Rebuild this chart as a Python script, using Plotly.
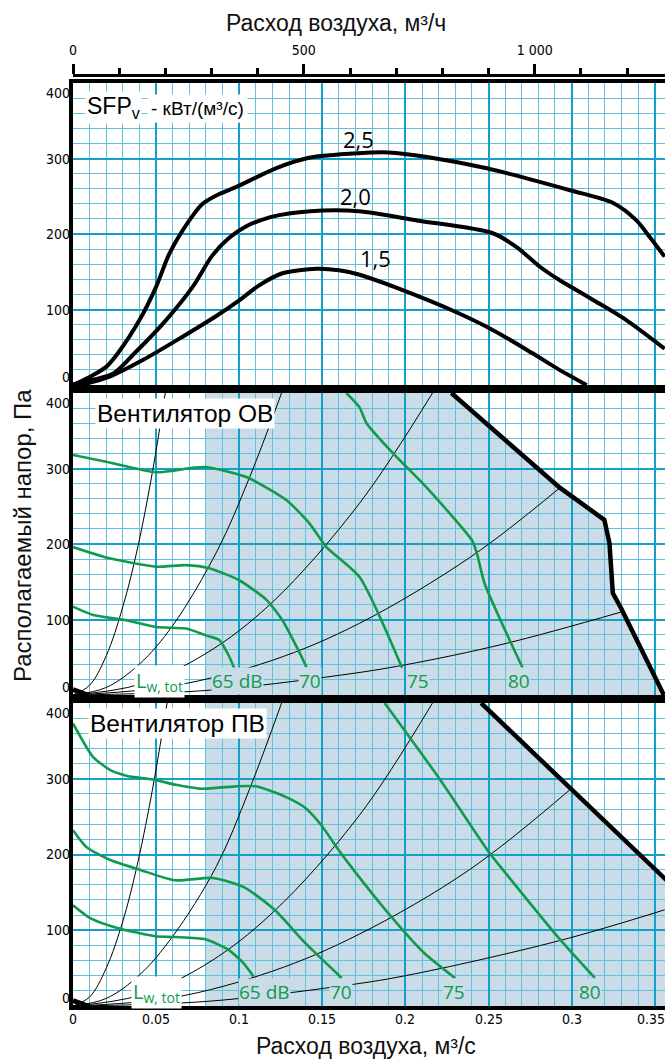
import plotly.graph_objects as go

# ---------------- axis extents ----------------
XMAX = 0.3562          # m3/s at right edge of the picture
YMAX = 400             # Pa

# ---------------- top panel: SFPv curves ----------------
sfp_labels = ["2,5", "2,0", "1,5"]
sfp25_x = [0, 0.002, 0.012, 0.020, 0.027, 0.040, 0.050, 0.058, 0.070, 0.078, 0.088, 0.098, 0.122, 0.142, 0.172,
           0.190, 0.213, 0.249, 0.299, 0.325, 0.339, 0.347, 0.356]
sfp25_y = [0, 2, 13, 24, 42, 86, 130, 174, 218, 240, 253, 262, 287, 301, 307, 308, 302, 287, 258, 241, 218, 196, 170]
sfp20_x = [0, 0.004, 0.024, 0.037, 0.056, 0.072, 0.084, 0.094, 0.104, 0.114, 0.124, 0.150, 0.172, 0.207, 0.2526,
           0.2667, 0.2807, 0.2927, 0.3127, 0.3329, 0.356]
sfp20_y = [0, 3, 15, 42, 86, 130, 172, 195, 210, 219, 225, 231, 230, 218, 201, 183, 157, 139, 113, 86, 48]
sfp15_x = [0, 0.008, 0.022, 0.042, 0.066, 0.086, 0.100, 0.112, 0.126, 0.1465, 0.160, 0.1725, 0.198, 0.228, 0.2525,
           0.2765, 0.2927, 0.309]
sfp15_y = [0, 2, 11, 33, 64, 91, 112, 132, 148, 154, 152, 146, 126, 99, 73, 42, 20, 0]
sfp_label_x = [0.1720, 0.1700, 0.182]
sfp_label_y = [326, 250, 168]

# ---------------- middle panel: fan OV ----------------
ov_g65_x = [0, 0.012, 0.032, 0.050, 0.068, 0.080, 0.088, 0.094, 0.097]
ov_g65_y = [117, 106, 99, 90, 88, 79, 73, 51, 35]
ov_g70_x = [0, 0.022, 0.050, 0.068, 0.082, 0.100, 0.1164, 0.126, 0.1345, 0.1405]
ov_g70_y = [196, 181, 170, 172, 168, 152, 126, 99, 64, 37]
ov_g75_x = [0, 0.020, 0.050, 0.072, 0.080, 0.104, 0.1285, 0.142, 0.1525, 0.1725, 0.198]
ov_g75_y = [318, 309, 295, 301, 302, 289, 258, 228, 196, 156, 36]
ov_g80_x = [0.1645, 0.1724, 0.1766, 0.1922, 0.2127, 0.240, 0.243, 0.2476, 0.2705]
ov_g80_y = [400, 381, 360, 321, 275, 205, 188, 148, 36]
ov_bound_x = [0.2277, 0.2927, 0.3197, 0.3228, 0.3248, 0.3298, 0.3555]
ov_bound_y = [400, 275, 232, 201, 135, 115, 0]
ov_s1_x = [0, 0.010, 0.020, 0.030, 0.039, 0.048, 0.0555]
ov_s1_y = [0, 13, 52, 117, 196, 298, 400]
ov_s2_x = [0, 0.020, 0.040, 0.060, 0.087, 0.106, 0.1255]
ov_s2_y = [0, 10, 41, 92, 192, 287, 400]
ov_s3_x = [0, 0.040, 0.080, 0.120, 0.1724, 0.2163]
ov_s3_y = [0, 14, 55, 123, 254, 400]
ov_s4_x = [0, 0.060, 0.120, 0.1724, 0.240, 0.2927]
ov_s4_y = [0, 12, 46, 95, 184, 274]
ov_s5_x = [0, 0.080, 0.160, 0.200, 0.260, 0.330]
ov_s5_y = [0, 6, 26, 40, 68, 110]
ov_db_labels = ["65 dB", "70", "75", "80"]
ov_db_x = [0.099, 0.1423, 0.2073, 0.2686]

# ---------------- bottom panel: fan PV ----------------
pv_g65_x = [0, 0.0104, 0.0266, 0.0497, 0.0612, 0.0797, 0.0936, 0.1028, 0.1086]
pv_g65_y = [133, 116, 103, 92, 91, 88, 74, 56, 39]
pv_g70_x = [0, 0.008, 0.022, 0.040, 0.0612, 0.0843, 0.1028, 0.1213, 0.1398, 0.1617]
pv_g70_y = [232, 210, 193, 180, 166, 169, 157, 127, 83, 37]
pv_g75_x = [0, 0.012, 0.022, 0.032, 0.048, 0.062, 0.076, 0.080, 0.098, 0.110, 0.128, 0.140, 0.150, 0.1585,
            0.168, 0.188, 0.2113, 0.2298]
pv_g75_y = [373, 329, 312, 304, 299, 292, 287, 287, 290, 290, 276, 261, 237, 210, 182, 127, 70, 37]
pv_g80_x = [0.1875, 0.2205, 0.2506, 0.2586, 0.2922, 0.314]
pv_g80_y = [400, 300, 202, 180, 90, 37]
pv_bound_x = [0.2456, 0.3489, 0.360]
pv_bound_y = [400, 184, 160]
pv_s1_x = [0, 0.010, 0.020, 0.030, 0.038, 0.047, 0.0566]
pv_s1_y = [0, 12, 50, 112, 180, 276, 400]
pv_s2_x = [0, 0.020, 0.040, 0.060, 0.0862, 0.106, 0.1255]
pv_s2_y = [0, 10, 41, 92, 184, 285, 400]
pv_s3_x = [0, 0.040, 0.080, 0.120, 0.1724, 0.2163]
pv_s3_y = [0, 14, 55, 123, 252, 400]
pv_s4_x = [0, 0.060, 0.120, 0.1724, 0.2386, 0.2987]
pv_s4_y = [0, 11, 46, 95, 180, 285]
pv_s5_x = [0, 0.080, 0.160, 0.200, 0.2922, 0.356]
pv_s5_y = [0, 6, 26, 40, 86, 127]
pv_db_labels = ["65 dB", "70", "75", "80"]
pv_db_x = [0.1155, 0.161, 0.229, 0.311]

minflow_x = [0, 0.009]
minflow_y = [7, 0]
shade_start = 0.08

# axis ticks
x_tickvals = [0, 0.05, 0.1, 0.15, 0.2, 0.25, 0.3, 0.35]
x_ticktext = ["0", "0.05", "0.1", "0.15", "0.2", "0.25", "0.3", "0.35"]
y_tickvals = [0, 100, 200, 300, 400]
top_tickvals = [0, 500, 1000]
top_ticktext = ["0", "500", "1 000"]
M3H_PER_M3S = 3600

# ---------------- styles ----------------
GRID_MAJ = "#14a0c8"
GRID_MIN = "#62c2dd"
SHADE = "#c9dce7"
GREEN = "#0f9a4d"
NARROW = "Liberation Sans Narrow, DejaVu Sans Condensed, Liberation Sans"
TICKFONT = dict(family=NARROW, size=14, color="black")
TITLEFONT = dict(family="Liberation Sans, Arial", size=23, color="#111111")

fig = go.Figure()


def add_line(x, y, xa, ya, color, width, shape="spline", smoothing=1.0):
    fig.add_trace(go.Scatter(x=x, y=y, xaxis=xa, yaxis=ya, mode="lines",
                             line=dict(color=color, width=width, shape=shape, smoothing=smoothing),
                             hoverinfo="skip", showlegend=False))


# panel 1 (top): x / y ; panel 2 : x2 / y2 ; panel 3 : x3 / y3
for xs, ys in [(sfp25_x, sfp25_y), (sfp20_x, sfp20_y), (sfp15_x, sfp15_y)]:
    add_line(xs, ys, "x", "y", "black", 4, smoothing=0.8)

for xa, ya, sys_curves, greens, bx, by in [
    ("x2", "y2", [(ov_s1_x, ov_s1_y), (ov_s2_x, ov_s2_y), (ov_s3_x, ov_s3_y), (ov_s4_x, ov_s4_y), (ov_s5_x, ov_s5_y)],
     [(ov_g65_x, ov_g65_y), (ov_g70_x, ov_g70_y), (ov_g75_x, ov_g75_y), (ov_g80_x, ov_g80_y)],
     ov_bound_x, ov_bound_y),
    ("x3", "y3", [(pv_s1_x, pv_s1_y), (pv_s2_x, pv_s2_y), (pv_s3_x, pv_s3_y), (pv_s4_x, pv_s4_y), (pv_s5_x, pv_s5_y)],
     [(pv_g65_x, pv_g65_y), (pv_g70_x, pv_g70_y), (pv_g75_x, pv_g75_y), (pv_g80_x, pv_g80_y)],
     pv_bound_x, pv_bound_y),
]:
    # shaded working area (below the grid)
    pts = [(shade_start, 0), (shade_start, YMAX)] + list(zip(bx, by)) + [(bx[-1], 0)]
    path = "M " + " L ".join(f"{px},{py}" for px, py in pts) + " Z"
    fig.add_shape(type="path", path=path, xref=xa, yref=ya, fillcolor=SHADE, line=dict(width=0), layer="below")
    for sx, sy in sys_curves:
        add_line(sx, sy, xa, ya, "black", 1)
    for gx, gy in greens:
        add_line(gx, gy, xa, ya, GREEN, 2.6, smoothing=0.6)
    add_line(bx, by, xa, ya, "black", 4.5, shape="linear")
    add_line(minflow_x, minflow_y, xa, ya, "black", 5, shape="linear")

# invisible trace to activate the top (m3/h) axis
fig.add_trace(go.Scatter(x=[0, XMAX * M3H_PER_M3S], y=[None, None], xaxis="x4", yaxis="y",
                         mode="lines", hoverinfo="skip", showlegend=False))

# ---------------- layout ----------------
H = 1064
TOP, BOT = 75, 1006
PH = BOT - TOP


def dom(top_px, bot_px):
    return [(BOT - bot_px) / PH, (BOT - top_px) / PH]


panel_px = {"1": (83, 385), "2": (393, 695), "3": (703, 1006)}


def xcfg(anchor):
    return dict(range=[0, XMAX], domain=[0, 1], anchor=anchor, tickmode="array", tickvals=x_tickvals,
                showgrid=True, gridcolor=GRID_MAJ, gridwidth=2,
                minor=dict(tickmode="linear", tick0=0, dtick=0.01, showgrid=True, gridcolor=GRID_MIN, gridwidth=1.2),
                showline=True, linecolor="black", linewidth=4, mirror=True, ticks="", zeroline=False,
                showticklabels=False, fixedrange=True)


def ycfg(anchor, domain):
    return dict(range=[0, YMAX], domain=domain, anchor=anchor, tickmode="array", tickvals=y_tickvals,
                showgrid=True, gridcolor=GRID_MAJ, gridwidth=2,
                minor=dict(tickmode="linear", tick0=0, dtick=20, showgrid=True, gridcolor=GRID_MIN, gridwidth=1.2),
                showline=True, linecolor="black", linewidth=4, mirror=False, ticks="", zeroline=False,
                showticklabels=False, fixedrange=True)


layout = dict(
    width=665, height=H,
    margin=dict(l=73, r=0, t=TOP, b=H - BOT, autoexpand=False),
    paper_bgcolor="white", plot_bgcolor="white",
    showlegend=False,
    xaxis=xcfg("y"),
    yaxis=ycfg("x", dom(*panel_px["1"])),
    xaxis2=xcfg("y2"),
    yaxis2=ycfg("x2", dom(*panel_px["2"])),
    xaxis3=xcfg("y3"),
    yaxis3=ycfg("x3", dom(*panel_px["3"])),
    xaxis4=dict(range=[0, XMAX * M3H_PER_M3S], overlaying="x", anchor="free", position=1, side="top",
                tickmode="array", tickvals=top_tickvals, ticktext=top_ticktext, ticks="outside",
                ticklen=10, tickwidth=3, tickcolor="black",
                minor=dict(tickmode="linear", tick0=0, dtick=100, ticks="outside", ticklen=6, tickwidth=3,
                           tickcolor="black", showgrid=False),
                showgrid=False, showline=True, linecolor="black", linewidth=3, zeroline=False,
                tickfont=TICKFONT, fixedrange=True, ticklabelstandoff=3),
)
fig.update_layout(**layout)

ann = []
# titles
ann.append(dict(text="Расход воздуха, м³/ч", xref="paper", yref="paper", x=(336 - 73) / 592,
                y=1 + (TOP - 23) / PH, showarrow=False, font=TITLEFONT, xanchor="center", yanchor="middle"))
ann.append(dict(text="Расход воздуха, м³/с", xref="paper", yref="paper", x=(366 - 73) / 592,
                y=-(1046 - BOT) / PH, showarrow=False, font=TITLEFONT, xanchor="center", yanchor="middle"))
ann.append(dict(text="Располагаемый напор, Па", xref="paper", yref="paper", x=(22 - 73) / 592,
                y=(BOT - 536) / PH, showarrow=False, font=dict(TITLEFONT, size=24), textangle=-90,
                xanchor="center", yanchor="middle"))

# y tick labels (end labels pulled inside their panel as in the original)
for ya in ["y", "y2", "y3"]:
    for v in y_tickvals:
        anc = "bottom" if v == 0 else ("top" if v == YMAX else "middle")
        ann.append(dict(text=str(v), xref="x domain", yref=ya, x=0, y=v, xanchor="right", yanchor=anc,
                        xshift=-2.5, yshift=(-1 if v in (0, YMAX) else 0),
                        showarrow=False, font=TICKFONT, borderpad=0))

# bottom x tick labels (last one kept inside the picture)
for v, t in zip(x_tickvals, x_ticktext):
    ann.append(dict(text=t, xref="x3", yref="y3 domain", x=v, y=0, xanchor="center", yanchor="top",
                    yshift=-4, xshift=(-4 if v == x_tickvals[-1] else 0),
                    showarrow=False, font=TICKFONT, borderpad=0))

# panel captions
ann.append(dict(text="SFP<sub>v</sub>", xref="x domain", yref="y domain", x=0.020, y=0.974,
                xanchor="left", yanchor="top", showarrow=False,
                font=dict(family="Liberation Sans, Arial", size=23, color="black"), bgcolor="white", borderpad=1))
ann.append(dict(text="- кВт/(м³/с)", xref="x domain", yref="y domain", x=(147 - 73) / 592, y=0.962,
                xanchor="left", yanchor="top", showarrow=False,
                font=dict(family="Liberation Sans, Arial", size=19, color="black"), bgcolor="white", borderpad=3))
ann.append(dict(text="Вентилятор ОВ", xref="x2 domain", yref="y2 domain", x=0.037, y=0.985, xanchor="left",
                yanchor="top", showarrow=False, font=dict(family="Liberation Sans, Arial", size=24.5, color="black"),
                bgcolor="white", borderpad=1))
ann.append(dict(text="Вентилятор ПВ", xref="x3 domain", yref="y3 domain", x=0.025, y=0.985, xanchor="left",
                yanchor="top", showarrow=False, font=dict(family="Liberation Sans, Arial", size=24.5, color="black"),
                bgcolor="white", borderpad=1))

for lab, lx, ly in zip(sfp_labels, sfp_label_x, sfp_label_y):
    ann.append(dict(text=lab, xref="x", yref="y", x=lx, y=ly, showarrow=False,
                    font=dict(family="Open Sans", size=22, color="black")))

for xa, ya, labs, lxs, lwx, ly in [("x2", "y2", ov_db_labels, ov_db_x, 0.052, 18.5),
                                   ("x3", "y3", pv_db_labels, pv_db_x, 0.050, 18)]:
    ann.append(dict(text="L<sub>w, tot</sub>", xref=xa, yref=ya, x=lwx, y=ly, showarrow=False,
                    font=dict(family="Open Sans", size=20, color=GREEN), bgcolor="white", borderpad=1))
    for lab, lx in zip(labs, lxs):
        ann.append(dict(text=lab, xref=xa, yref=ya, x=lx, y=ly, showarrow=False,
                        font=dict(family="Open Sans", size=19, color=GREEN), bgcolor=SHADE, borderpad=0))

fig.update_layout(annotations=ann)
fig.write_html("out.html", config={"displayModeBar": False},
               post_script="document.body.style.margin='0';document.body.style.overflow='hidden';")
